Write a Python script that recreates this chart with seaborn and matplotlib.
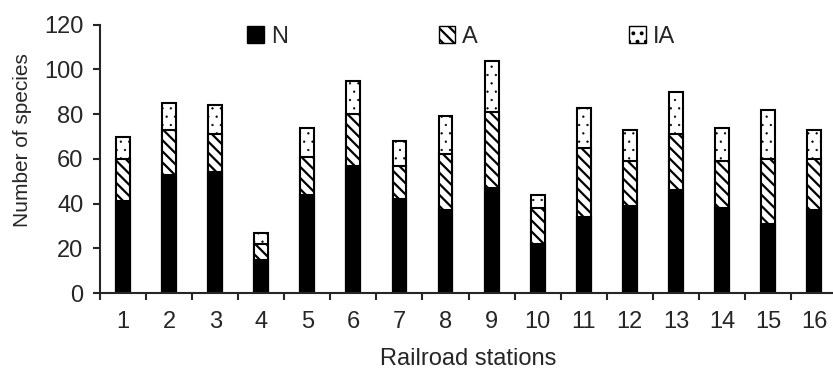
import matplotlib
matplotlib.use("Agg")
import matplotlib.pyplot as plt
from matplotlib.patches import Patch
import pandas as pd
import seaborn as sns

# Data
stations = [str(i) for i in range(1, 17)]
native = [41, 53, 54, 15, 44, 57, 42, 37, 47, 22, 34, 39, 46, 38, 31, 37]
archaeo = [19, 20, 17, 7, 17, 23, 15, 25, 34, 16, 31, 20, 25, 21, 29, 23]
invasive = [10, 12, 13, 5, 13, 15, 11, 17, 23, 6, 18, 14, 19, 15, 22, 13]
series_names = ["N", "A", "IA"]

df = pd.DataFrame({"station": stations, "N": native, "A": archaeo, "IA": invasive})
df["A_top"] = df["N"] + df["A"]
df["total"] = df["A_top"] + df["IA"]

sns.set_style("ticks")
plt.rcParams["font.family"] = ["Liberation Sans", "DejaVu Sans"]
plt.rcParams["hatch.linewidth"] = 1.6

fig = plt.figure(figsize=(8.33, 3.70), dpi=100)
ax = fig.add_axes([0.12, 0.208, 0.885, 0.725])

width = 0.30
# stacked look: draw the cumulative heights from back to front
sns.barplot(data=df, x="station", y="total", order=stations, color="white",
            edgecolor="black", linewidth=1.5, hatch="..", width=width, ax=ax)
n_ia = len(ax.patches)
sns.barplot(data=df, x="station", y="A_top", order=stations, color="white",
            edgecolor="black", linewidth=1.5, hatch="\\\\\\", width=width, ax=ax)
sns.barplot(data=df, x="station", y="N", order=stations, color="black",
            edgecolor="black", linewidth=1.5, width=width, ax=ax)

# thinner dots for the IA layer
for p in ax.patches[:n_ia]:
    try:
        p.set_hatch_linewidth(0.4)
    except AttributeError:
        pass

ax.set_ylim(0, 120)
ax.set_yticks(range(0, 121, 20))
ax.set_xlim(-0.5, len(stations) - 0.5)
ax.set_xticks(range(len(stations)))
ax.set_xticklabels(stations)
ax.set_xticks([i - 0.5 for i in range(len(stations) + 1)], minor=True)
ax.tick_params(axis="x", which="major", length=0, pad=13, labelsize=17)
ax.tick_params(axis="x", which="minor", length=5, width=1.5, direction="out")
ax.tick_params(axis="y", length=5, width=1.5, direction="out", pad=7, labelsize=17)
for side in ["top", "right"]:
    ax.spines[side].set_visible(False)
for side in ["left", "bottom"]:
    ax.spines[side].set_linewidth(1.5)

ax.set_xlabel("Railroad stations", fontsize=17, labelpad=11)
ax.set_ylabel("Number of species", fontsize=15)
ax.yaxis.set_label_coords(-0.092, 0.57)

handles = [
    Patch(facecolor="black", edgecolor="black", label=series_names[0]),
    Patch(facecolor="white", edgecolor="black", hatch="\\\\\\", label=series_names[1]),
    Patch(facecolor="white", edgecolor="black", hatch="..", label=series_names[2]),
]
ax.legend(handles=handles, loc="upper center", bbox_to_anchor=(0.49, 1.075), ncol=3,
          frameon=False, fontsize=17, handlelength=0.7, handleheight=0.7,
          handletextpad=0.3, columnspacing=6.4)

plt.savefig("out.png", dpi=100)
